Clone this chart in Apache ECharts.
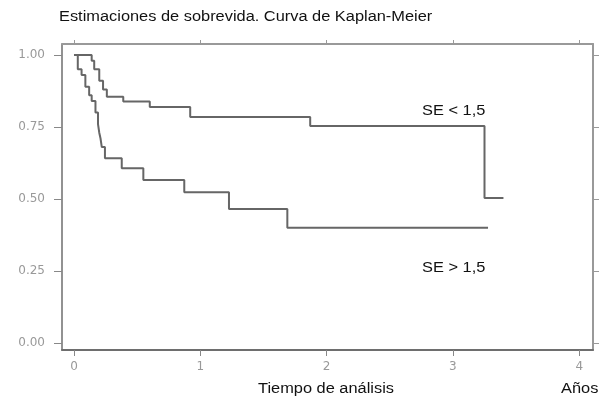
<!DOCTYPE html>
<html>
<head>
    <meta charset="utf-8">
    <title>Kaplan-Meier</title>
    <script src="https://cdn.jsdelivr.net/npm/echarts@6/dist/echarts.min.js"></script>
</head>
<body style="margin:0;background:#fff;">
<div id="main" style="width:599px;height:399px;"></div>
<script type="text/javascript">
    // tiempos (años) y supervivencia estimada, grupo SE < 1,5
    var upperTimes = [0, 0.14, 0.16, 0.20, 0.23, 0.26, 0.39, 0.60, 0.92, 1.87, 3.25, 3.40];
    var upperSurv  = [1.00, 0.98, 0.95, 0.91, 0.88, 0.855, 0.838, 0.819, 0.785, 0.753, 0.503, 0.503];
    // grupo SE > 1,5
    var lowerTimes = [0, 0.03, 0.06, 0.09, 0.12, 0.14, 0.17, 0.19, 0.20, 0.21, 0.22, 0.245, 0.378, 0.549, 0.873, 1.227, 1.689, 3.278];
    var lowerSurv  = [1.00, 0.95, 0.93, 0.89, 0.86, 0.84, 0.80, 0.76, 0.73, 0.71, 0.68, 0.641, 0.607, 0.566, 0.523, 0.465, 0.400, 0.400];
    var xTicks = [0, 1, 2, 3, 4];
    var yTicks = [0, 0.25, 0.5, 0.75, 1];

    function pares(t, s) {
        var out = [];
        for (var i = 0; i < t.length; i++) out.push([t[i], s[i]]);
        return out;
    }

    var gris = '#6e6e6e';
    var fuente = '"Liberation Sans", Arial, sans-serif';
    var fuenteEje = '"DejaVu Sans", sans-serif';
    // el original está estirado en horizontal
    var estirar = 1.17;

    function texto(str, x, y) {
        return {
            type: 'text', x: x, y: y, scaleX: estirar,
            style: { text: str, font: '14px ' + fuente, fill: '#111', textAlign: 'left', textVerticalAlign: 'top' }
        };
    }

    var myChart = echarts.init(document.getElementById('main'));
    var option = {
        animation: false,
        backgroundColor: '#fff',
        grid: { left: 62, right: 6, top: 44, bottom: 49 },
        xAxis: [{
            type: 'value', min: -0.095, max: 4.109, position: 'bottom',
            axisLine: { onZero: false, lineStyle: { color: gris, width: 2 } },
            axisTick: { show: true, length: 6, customValues: xTicks, lineStyle: { color: '#888' } },
            axisLabel: { customValues: xTicks, margin: 11, color: '#999', fontSize: 12, fontFamily: fuenteEje },
            splitLine: { show: false }
        }, {
            type: 'value', min: -0.095, max: 4.109, position: 'top',
            axisLine: { show: true, onZero: false, lineStyle: { color: '#999', width: 2 } },
            axisTick: { show: true, length: 4, customValues: xTicks, lineStyle: { color: '#999' } },
            axisLabel: { show: false },
            splitLine: { show: false }
        }],
        yAxis: [{
            type: 'value', min: -0.0243, max: 1.038, position: 'left',
            axisLine: { show: true, onZero: false, lineStyle: { color: gris, width: 1.5 } },
            axisTick: { show: true, length: 8, customValues: yTicks, lineStyle: { color: '#888' } },
            axisLabel: {
                customValues: yTicks, margin: 17, color: '#999', fontSize: 12, fontFamily: fuenteEje,
                formatter: function (v) { return v.toFixed(2); }
            },
            splitLine: { show: false }
        }, {
            type: 'value', min: -0.0243, max: 1.038, position: 'right',
            axisLine: { show: true, onZero: false, lineStyle: { color: '#999', width: 2 } },
            axisTick: { show: true, length: 6, customValues: yTicks, lineStyle: { color: '#999' } },
            axisLabel: { show: false },
            splitLine: { show: false }
        }],
        series: [{
            name: 'SE < 1,5', type: 'line', step: 'end', symbol: 'none',
            data: pares(upperTimes, upperSurv),
            lineStyle: { color: '#666', width: 2 }
        }, {
            name: 'SE > 1,5', type: 'line', step: 'end', symbol: 'none',
            data: pares(lowerTimes, lowerSurv),
            lineStyle: { color: '#666', width: 2 }
        }],
        graphic: [
            texto('Estimaciones de sobrevida. Curva de Kaplan-Meier', 59, 10),
            texto('SE < 1,5', 422, 104),
            texto('SE > 1,5', 422, 261),
            texto('Tiempo de análisis', 258, 382),
            texto('Años', 561, 382)
        ]
    };
    myChart.setOption(option);
</script>
</body>
</html>
